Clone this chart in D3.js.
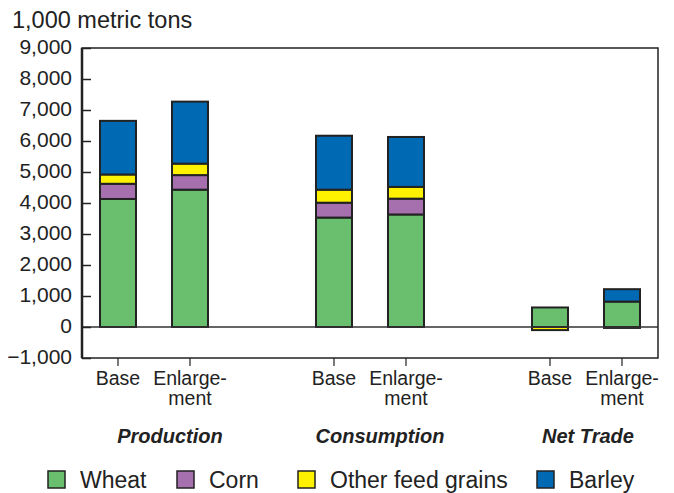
<!DOCTYPE html>
<html><head><meta charset="utf-8">
<script src="https://cdn.jsdelivr.net/npm/d3@7"></script>
<style>body{margin:0;background:#fff}svg{font-family:"Liberation Sans",Arial,sans-serif}</style>
</head><body><svg id="c" width="674" height="493"></svg>
<script>
const slots = ["P-Base","P-Enl","gap1","C-Base","C-Enl","gap2","N-Base","N-Enl"];
const bars = ["P-Base","P-Enl","C-Base","C-Enl","N-Base","N-Enl"];
const barLabels = [["Base"],["Enlarge-","ment"],["Base"],["Enlarge-","ment"],["Base"],["Enlarge-","ment"]];
const groups = ["Production","Consumption","Net Trade"];
const seriesNames = ["Wheat","Corn","Other feed grains","Barley"];
const wheat = [4130, 4430, 3530, 3630, 630, 820];
const corn = [490, 470, 480, 510, 0, 0];
const other = [300, 370, 420, 380, -100, -30];
const barley = [1730, 2000, 1740, 1610, 0, 400];
const yTicks = [-1000,0,1000,2000,3000,4000,5000,6000,7000,8000,9000];
const colors = ["#6abf6e","#a66fae","#fff200","#0069b4"];

const svg = d3.select("#c");
const L=82,R=658,T=48,B=358;
const x = d3.scaleBand().domain(slots).range([L,R]).paddingInner(0.5).paddingOuter(0.25);
const y = d3.scaleLinear().domain([-1000,9000]).range([B,T]);
const series=[wheat,corn,other,barley];

bars.forEach((b,i)=>{
  let pos=0,neg=0;
  series.forEach((s,k)=>{
    const v=s[i]; if(!v) return;
    let y0,y1;
    if(v>0){y0=pos;y1=pos+v;pos=y1;} else {y0=neg;y1=neg+v;neg=y1;}
    svg.append("rect").attr("x",x(b)).attr("width",x.bandwidth())
      .attr("y",y(Math.max(y0,y1))).attr("height",Math.abs(y(y0)-y(y1)))
      .attr("fill",colors[k]).attr("stroke","#222").attr("stroke-width",2);
  });
});

svg.append("line").attr("x1",L).attr("x2",R).attr("y1",y(0)).attr("y2",y(0)).attr("stroke","#333").attr("stroke-width",1.5);
svg.append("rect").attr("x",L).attr("y",T).attr("width",R-L).attr("height",B-T).attr("fill","none").attr("stroke","#222").attr("stroke-width",1.5);
svg.append("line").attr("x1",L).attr("x2",L).attr("y1",T).attr("y2",B).attr("stroke","#222").attr("stroke-width",2.5);

const ax = svg.append("g").attr("transform",`translate(${L},0)`)
  .call(d3.axisRight(y).tickValues(yTicks).tickSize(9).tickFormat(""));
ax.select(".domain").remove();
ax.selectAll("line").attr("stroke","#222").attr("stroke-width",1.5);
svg.selectAll(".yl").data(yTicks).enter().append("text")
  .attr("x",72).attr("y",d=>y(d)+6).attr("text-anchor","end")
  .attr("font-size",21).attr("fill","#222").text(d=>d3.format(",")(d));

const bx = svg.append("g").attr("transform",`translate(0,${B})`)
  .call(d3.axisBottom(x).tickValues(bars).tickSize(8).tickFormat(""));
bx.select(".domain").remove();
bx.selectAll("line").attr("stroke","#222").attr("stroke-width",1.2);

svg.append("text").attr("x",12).attr("y",28).attr("font-size",23.5).attr("fill","#222").text("1,000 metric tons");

bars.forEach((b,i)=>{
  barLabels[i].forEach((t,j)=>{
    svg.append("text").attr("x",x(b)+x.bandwidth()/2).attr("y",385+j*20)
      .attr("text-anchor","middle").attr("font-size",19.5).attr("fill","#222").text(t);
  });
});
const gx=[170,380,588];
groups.forEach((g,i)=>{
  svg.append("text").attr("x",gx[i]).attr("y",443).attr("text-anchor","middle")
    .attr("font-size",20).attr("font-weight","bold").attr("font-style","italic").attr("fill","#222").text(g);
});

const lx=[48,177,298,537];
seriesNames.forEach((n,i)=>{
  svg.append("rect").attr("x",lx[i]).attr("y",471).attr("width",17).attr("height",17)
    .attr("fill",colors[i]).attr("stroke","#222").attr("stroke-width",1.5);
  svg.append("text").attr("x",lx[i]+32).attr("y",488).attr("font-size",23).attr("fill","#222").text(n);
});
</script></body></html>
